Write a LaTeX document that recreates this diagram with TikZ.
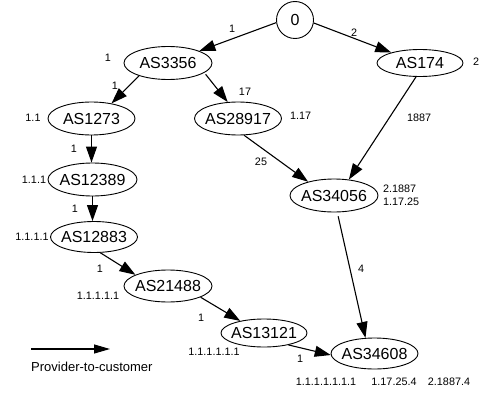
\documentclass[tikz,border=0pt]{standalone}
\usepackage{fontspec}
\setmainfont{Liberation Sans}
\usetikzlibrary{shapes.geometric,arrows.meta}
\begin{document}
\begin{tikzpicture}[x=1pt,y=-1pt,
  as/.style={ellipse,draw,line width=0.9pt,inner xsep=-10pt,inner ysep=0pt,
    minimum width=88pt,minimum height=33pt,font=\fontsize{16}{18}\selectfont},
  link/.style={draw,line width=1.1pt,-{Triangle[length=16pt,width=11pt]}},
  lbl/.style={font=\fontsize{10.8}{12}\selectfont,inner sep=0pt},
]
\useasboundingbox (0,0) rectangle (484,396);

% AS nodes
\node[circle,draw,line width=0.9pt,minimum size=37pt,inner sep=0pt,
  font=\fontsize{16}{18}\selectfont] (n0) at (295,20) {0};
\node[as] (a3356) at (168,63) {AS3356};
\node[as,minimum width=86pt,minimum height=27pt] (a174) at (420,63) {AS174};
\node[as,minimum width=87pt] (a1273) at (91.5,118.5) {AS1273};
\node[as,minimum width=87pt] (a28917) at (238,118.5) {AS28917};
\node[as,minimum width=89pt] (a12389) at (92.5,179.5) {AS12389};
\node[as,minimum width=87pt,minimum height=31pt] (a12883) at (94,237) {AS12883};
\node[as] (a34056) at (334,195.5) {AS34056};
\node[as,minimum height=32pt] (a21488) at (168,286) {AS21488};
\node[as,minimum width=86pt,minimum height=28pt] (a13121) at (264,333) {AS13121};
\node[as,minimum width=87pt,minimum height=31pt] (a34608) at (374.5,353.5) {AS34608};

% provider-to-customer links
\draw[link] (n0.188) -- (a3356.21);
\draw[link] (n0.-9) -- (a174.160);
\draw[link] (a3356.-156) -- (a1273.37);
\draw[link,shorten <=2pt] (a3356.-15) -- (a28917.122);
\draw[link] (a174.-106) -- (a34056.47);
\draw[link] (a28917.-70) -- (a34056.152);
\draw[link] (a1273.south) -- (a1273.south |- a12389.north);
\draw[link] (a12389.south) -- (a12389.south |- a12883.north);
\draw[link] (a12883.-68) -- (a21488.161);
\draw[link] (a21488.-19) -- (a13121.153);
\draw[link] (a13121.-26) -- (a34608.182);
\draw[link,shorten <=4pt] (a34056.-79) -- (a34608.120);

% edge labels
\node[lbl] (e1) at (232,29) {1};
\node[lbl] (e2) at (354,33) {2};
\node[lbl] (e3) at (115,86) {1};
\node[lbl] (e4) at (245,92) {17};
\node[lbl,anchor=west] (e5) at (407,118) {1887};
\node[lbl] (e6) at (74,149) {1};
\node[lbl] (e7) at (75,209) {1};
\node[lbl] (e8) at (261,162) {25};
\node[lbl] (e9) at (361,269) {4};
\node[lbl] (e10) at (100,269) {1};
\node[lbl] (e11) at (201,318) {1};
\node[lbl] (e12) at (300,359) {1};

% path labels
\node[lbl] (p1) at (108,58) {1};
\node[lbl,anchor=west] (p2) at (290,116) {1.17};
\node[lbl] (p3) at (476,62) {2};
\node[lbl] (p4) at (33,118) {1.1};
\node[lbl] (p5) at (34,180) {1.1.1};
\node[lbl] (p6) at (32,237) {1.1.1.1};
\node[lbl,anchor=west] (p7) at (383,189) {2.1887};
\node[lbl,anchor=west] (p8) at (383,202) {1.17.25};
\node[lbl] (p9) at (98,296) {1.1.1.1.1};
\node[lbl] (p10) at (214,352) {1.1.1.1.1.1};
\node[lbl] (p11) at (326,382) {1.1.1.1.1.1.1};
\node[lbl] (p12) at (394,382) {1.17.25.4};
\node[lbl] (p13) at (449,382) {2.1887.4};

% legend
\coordinate (lg1) at (31,349);
\coordinate (lg2) at (110,349);
\draw[line width=1.1pt,-{Triangle[length=16pt,width=9pt]}] (lg1) -- (lg2);
\node[anchor=west,inner sep=0pt,font=\fontsize{13}{15}\selectfont] (legend) at (31,367) {Provider-to-customer};
\end{tikzpicture}
\end{document}
